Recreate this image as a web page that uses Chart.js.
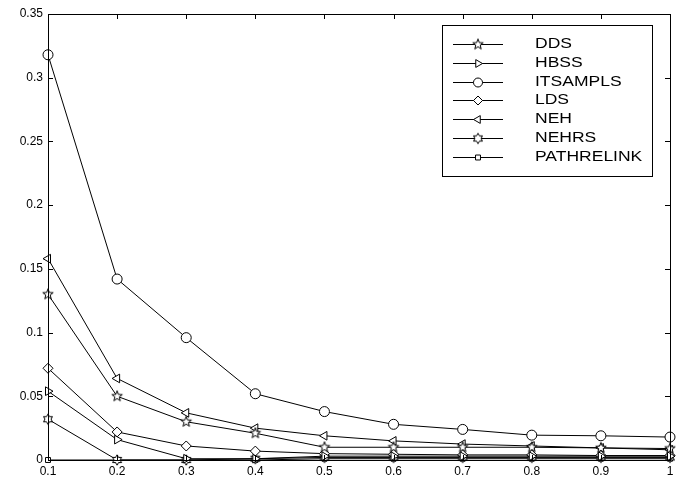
<!DOCTYPE html>
<html>
<head>
<meta charset="utf-8">
<script src="https://cdn.jsdelivr.net/npm/chart.js@4/dist/chart.umd.min.js"></script>
<style>
  html, body { margin: 0; padding: 0; background: #fff; }
  #wrap { width: 682px; height: 483px; }
</style>
</head>
<body>
<div id="wrap"><canvas id="c" width="682" height="483"></canvas></div>
<script>
// x positions and tick labels
const xValues = [0.1, 0.2, 0.3, 0.4, 0.5, 0.6, 0.7, 0.8, 0.9, 1.0];
const yTicks = [0, 0.05, 0.1, 0.15, 0.2, 0.25, 0.3, 0.35];

// series values
const dds        = [0.130, 0.050, 0.030, 0.021, 0.010, 0.010, 0.010, 0.010, 0.0095, 0.009];
const hbss       = [0.054, 0.016, 0.001, 0.001, 0.003, 0.003, 0.003, 0.003, 0.003, 0.003];
const itsampls   = [0.318, 0.142, 0.096, 0.052, 0.038, 0.028, 0.024, 0.0195, 0.019, 0.018];
const lds        = [0.072, 0.022, 0.011, 0.007, 0.005, 0.0045, 0.004, 0.004, 0.0035, 0.0035];
const neh        = [0.158, 0.064, 0.037, 0.025, 0.019, 0.015, 0.0125, 0.011, 0.0095, 0.008];
const nehrs      = [0.032, 0.000, 0.000, 0.001, 0.002, 0.002, 0.002, 0.002, 0.002, 0.002];
const pathrelink = [0.000, 0.000, 0.000, 0.000, 0.001, 0.001, 0.001, 0.001, 0.001, 0.001];

const seriesNames = ['DDS', 'HBSS', 'ITSAMPLS', 'LDS', 'NEH', 'NEHRS', 'PATHRELINK'];

// small canvases for the star shaped markers
function starMarker(points, outer, inner) {
    const size = 14;
    const cv = document.createElement('canvas');
    cv.width = size; cv.height = size;
    const g = cv.getContext('2d');
    g.beginPath();
    for (let i = 0; i < points * 2; i++) {
        const r = i % 2 === 0 ? outer : inner;
        const a = -Math.PI / 2 + i * Math.PI / points;
        const px = size / 2 + r * Math.cos(a);
        const py = size / 2 + r * Math.sin(a);
        if (i === 0) g.moveTo(px, py); else g.lineTo(px, py);
    }
    g.closePath();
    g.fillStyle = '#fff';
    g.fill();
    g.strokeStyle = '#000';
    g.lineWidth = 1;
    g.stroke();
    return cv;
}
const starFive = starMarker(5, 5.5, 2.3);
const starSix = starMarker(6, 5.2, 3.0);

const styles = [
    { pointStyle: starFive, rot: 0 },
    { pointStyle: 'triangle', rot: 90 },
    { pointStyle: 'circle', rot: 0 },
    { pointStyle: 'rectRot', rot: 0 },
    { pointStyle: 'triangle', rot: -90 },
    { pointStyle: starSix, rot: 0 },
    { pointStyle: 'rect', rot: 0 }
];
const allSeries = [dds, hbss, itsampls, lds, neh, nehrs, pathrelink];

const datasets = allSeries.map((vals, i) => ({
    label: seriesNames[i],
    data: vals.map((v, j) => ({ x: xValues[j], y: v })),
    borderColor: '#000',
    backgroundColor: '#fff',
    borderWidth: 1,
    pointStyle: styles[i].pointStyle,
    pointRotation: styles[i].rot,
    pointRadius: styles[i].pointStyle === 'rect' ? 3.5 : 5,
    pointBorderWidth: 1,
    pointBorderColor: '#000',
    pointBackgroundColor: '#fff',
    tension: 0,
    clip: false
}));

// MATLAB style box, inward tick marks and legend
const matlabFrame = {
    id: 'matlabFrame',
    afterDraw(chart) {
        const ctx = chart.ctx;
        const a = chart.chartArea;
        const xs = chart.scales.x, ys = chart.scales.y;
        ctx.save();
        ctx.strokeStyle = '#000';
        ctx.lineWidth = 1;
        ctx.strokeRect(a.left + 0.5, a.top + 0.5, a.right - a.left, a.bottom - a.top);
        ctx.beginPath();
        xValues.forEach(v => {
            const px = Math.round(xs.getPixelForValue(v)) + 0.5;
            ctx.moveTo(px, a.bottom); ctx.lineTo(px, a.bottom - 5);
            ctx.moveTo(px, a.top); ctx.lineTo(px, a.top + 5);
        });
        yTicks.forEach(v => {
            const py = Math.round(ys.getPixelForValue(v)) + 0.5;
            ctx.moveTo(a.left, py); ctx.lineTo(a.left + 5, py);
            ctx.moveTo(a.right, py); ctx.lineTo(a.right - 5, py);
        });
        ctx.stroke();

        // legend box
        const bx = 442, by = 25, bw = 210, bh = 151;
        ctx.fillStyle = '#fff';
        ctx.fillRect(bx, by, bw, bh);
        ctx.lineWidth = 1;
        ctx.strokeRect(bx + 0.5, by + 0.5, bw, bh);
        ctx.font = '14px "Liberation Sans", Arial, sans-serif';
        ctx.textBaseline = 'middle';
        seriesNames.forEach((name, i) => {
            const y = Math.round(by + 19 + i * 18.8) + 0.5;
            ctx.strokeStyle = '#000';
            ctx.beginPath();
            ctx.moveTo(453, y); ctx.lineTo(503, y);
            ctx.stroke();
            const st = styles[i].pointStyle;
            ctx.fillStyle = '#fff';
            ctx.strokeStyle = '#000';
            Chart.helpers.drawPoint(ctx, {
                pointStyle: st,
                rotation: styles[i].rot,
                radius: st === 'rect' ? 3.5 : 4.5,
                borderWidth: 1
            }, 478, y);
            ctx.save();
            ctx.translate(535, y);
            ctx.scale(1.25, 1);
            ctx.fillStyle = '#000';
            ctx.fillText(name, 0, 0);
            ctx.restore();
        });
        ctx.restore();
    }
};

new Chart(document.getElementById('c'), {
    type: 'line',
    data: { datasets: datasets },
    options: {
        responsive: false,
        animation: false,
        layout: { padding: { top: 14, right: 12, left: 0, bottom: 0 } },
        plugins: {
            legend: { display: false },
            tooltip: { enabled: false }
        },
        scales: {
            x: {
                type: 'linear',
                min: 0.1,
                max: 1,
                afterBuildTicks: s => { s.ticks = xValues.map(v => ({ value: v })); },
                afterFit: s => { s.height = 23; },
                grid: { display: false, drawTicks: false },
                border: { display: false },
                ticks: {
                    padding: 4,
                    color: '#000',
                    font: { family: '"Liberation Sans", Arial, sans-serif', size: 12 },
                    callback: v => String(+v.toFixed(1))
                }
            },
            y: {
                min: 0,
                max: 0.35,
                afterBuildTicks: s => { s.ticks = yTicks.map(v => ({ value: v })); },
                afterFit: s => { s.width = 48; },
                grid: { display: false, drawTicks: false },
                border: { display: false },
                ticks: {
                    padding: 5,
                    color: '#000',
                    font: { family: '"Liberation Sans", Arial, sans-serif', size: 12 },
                    callback: v => String(+v.toFixed(2))
                }
            }
        }
    },
    plugins: [matlabFrame]
});
</script>
</body>
</html>
